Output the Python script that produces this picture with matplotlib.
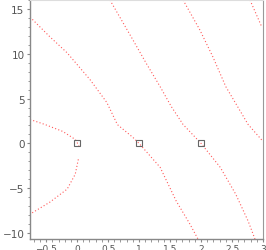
import matplotlib
matplotlib.use("Agg")
import matplotlib.pyplot as plt
from matplotlib.ticker import MultipleLocator

# curves (implicit-plot style dotted traces)
curve_a_x = [-0.76, -0.44, -0.16, 0.21, 0.48, 0.65, 0.90, 1.00, 1.34, 1.60, 1.82, 1.95]
curve_a_y = [14.1, 11.9, 10.1, 7.1, 4.56, 2.1, 0.67, 0.0, -2.67, -6.44, -9.0, -10.67]

curve_b_x = [0.53, 0.90, 1.11, 1.34, 1.52, 1.71, 2.00, 2.31, 2.56, 2.76, 2.87]
curve_b_y = [16.0, 11.56, 9.0, 6.33, 4.11, 2.11, 0.0, -2.67, -5.67, -8.67, -10.67]

curve_c_x = [1.71, 1.98, 2.19, 2.40, 2.76, 3.00]
curve_c_y = [16.0, 12.67, 9.67, 6.33, 2.11, 0.22]

curve_e_x = [2.79, 2.98]
curve_e_y = [16.0, 13.0]

left_up_x = [-0.76, -0.52, -0.23, -0.03, 0.0, 0.03]
left_up_y = [2.67, 2.11, 1.33, 0.44, 0.1, -0.33]

left_lo_x = [0.02, -0.03, -0.16, -0.44, -0.76]
left_lo_y = [-1.78, -3.44, -5.1, -6.56, -7.9]

roots_x = [0, 1, 2]
roots_y = [0, 0, 0]

fig = plt.figure(figsize=(2.66, 2.51), dpi=100)
ax = fig.add_axes([30 / 266, 1 - 240 / 251, 233 / 266, 239 / 251])

style = dict(color="#ff3030", linestyle=(0, (1, 2)), linewidth=0.8, alpha=0.8)
for xs, ys in [(curve_a_x, curve_a_y), (curve_b_x, curve_b_y), (curve_c_x, curve_c_y),
               (curve_e_x, curve_e_y), (left_up_x, left_up_y), (left_lo_x, left_lo_y)]:
    ax.plot(xs, ys, **style)

ax.plot(roots_x, roots_y, "s", markersize=4, mfc="none", mec="#666", mew=0.8)

ax.set_xlim(-0.76, 3.0)
ax.set_ylim(-10.67, 16)
ax.xaxis.set_major_locator(MultipleLocator(0.5))
ax.xaxis.set_minor_locator(MultipleLocator(0.1))
ax.yaxis.set_major_locator(MultipleLocator(5))
ax.yaxis.set_minor_locator(MultipleLocator(1))
fmt = plt.FuncFormatter(lambda v, p: f"{v:g}".replace("-", "\u2212"))
ax.xaxis.set_major_formatter(fmt)
ax.yaxis.set_major_formatter(fmt)

ax.tick_params(which="major", length=2.5, width=0.8, color="#888", labelcolor="#555",
               labelsize=7.5, pad=1.5)
ax.tick_params(axis="x", which="major", labelsize=6.5, pad=0.8)
ax.tick_params(which="minor", length=1.8, width=0.6, color="#888")

for side in ["left", "bottom"]:
    ax.spines[side].set_color("#888")
    ax.spines[side].set_linewidth(1.0)
ax.spines["top"].set_color("#ddd")
ax.spines["right"].set_color("#999")

fig.savefig("out.png", dpi=100)
